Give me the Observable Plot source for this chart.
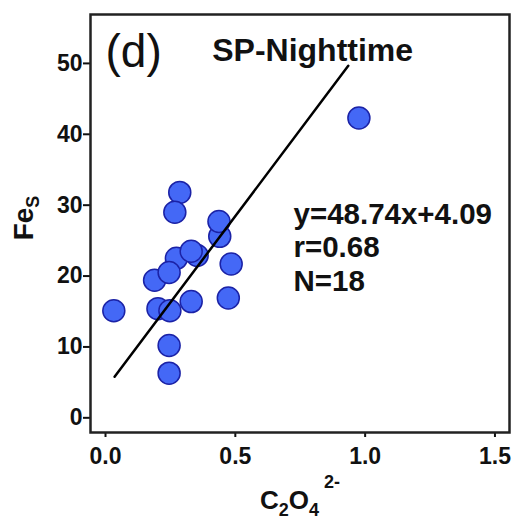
<!DOCTYPE html>
<html><head><meta charset="utf-8">
<script src="https://cdn.jsdelivr.net/npm/d3@7"></script>
<script src="https://cdn.jsdelivr.net/npm/@observablehq/plot@0.6"></script>
<style>body{margin:0;background:#fff} svg{font-family:"Liberation Sans",Arial,sans-serif}</style>
</head><body><div id="chart"></div>
<script>
// Data
const oxalate = [0.032,0.976,0.286,0.267,0.440,0.437,0.273,0.353,0.330,0.484,0.189,0.245,0.202,0.248,0.330,0.473,0.245,0.245];
const feS     = [15.1, 42.3, 31.8, 29.0, 25.6, 27.7, 22.5, 22.9, 23.5, 21.7, 19.4, 20.5, 15.4, 15.1, 16.4, 16.9, 10.2, 6.3];
const xTicks = [0, 0.5, 1.0, 1.5];
const yTicks = [0, 10, 20, 30, 40, 50];
const slope = 48.74, intercept = 4.09;
const fitRange = [0.035, 0.935];
const panelLabel = "(d)";
const title = "SP-Nighttime";
const statLines = ["y=48.74x+4.09", "r=0.68", "N=18"];

const pts = oxalate.map((x, i) => ({x, y: feS[i]}));
const fit = fitRange.map(x => ({x, y: slope * x + intercept}));

const plot = Plot.plot({
  width: 515, height: 519,
  marginLeft: 90, marginRight: 6, marginTop: 14, marginBottom: 87,
  style: {fontFamily: "Liberation Sans, Arial, sans-serif", background: "#fff", color: "#111"},
  x: {domain: [-0.0578, 1.556]},
  y: {domain: [-2.07, 56.9]},
  marks: [
    Plot.dot(pts, {x: "x", y: "y", r: 11, fill: "#4468f6", stroke: "#1b22a6", strokeWidth: 1.5}),
    Plot.line(fit, {x: "x", y: "y", stroke: "#000", strokeWidth: 2.5}),
    Plot.axisY(yTicks, {tickSize: 7, tickPadding: 1, fontSize: 23, fontWeight: "bold", strokeWidth: 2, label: null}),
    Plot.axisX(xTicks, {tickSize: 5, tickPadding: 10, fontSize: 23, fontWeight: "bold", strokeWidth: 2, label: null, tickFormat: d3.format(".1f")}),
    Plot.frame({stroke: "#222", strokeWidth: 2.5}),
    Plot.text([panelLabel], {text: d => d, frameAnchor: "top-left", dx: 15, dy: 52, lineAnchor: "bottom", textAnchor: "start", fontSize: 46, fill: "#111"}),
    Plot.text([title], {text: d => d, frameAnchor: "top-left", dx: 121.7, dy: 46, lineAnchor: "bottom", textAnchor: "start", fontSize: 32, fontWeight: "bold", fill: "#111"}),
    Plot.text([statLines.join("\n")], {text: d => d, frameAnchor: "top-left", dx: 203, dy: 185.4, lineAnchor: "top", textAnchor: "start", fontSize: 29.5, fontWeight: "bold", lineHeight: 1.14, fill: "#111"})
  ]
});

const svg = d3.select(plot);
// x-axis label: C2O4 2-
const xl = svg.append("text")
  .attr("x", 300).attr("y", 509)
  .attr("text-anchor", "middle")
  .attr("font-size", 26).attr("font-weight", "bold").attr("fill", "#111");
xl.append("tspan").text("C");
xl.append("tspan").attr("font-size", 18).attr("dy", 7).text("2");
xl.append("tspan").attr("dy", -7).text("O");
xl.append("tspan").attr("font-size", 18).attr("dy", 7).text("4");
xl.append("tspan").attr("font-size", 18).attr("dy", -28).attr("dx", 5).text("2-");
// y-axis label: Fe_S
const yl = svg.append("text")
  .attr("transform", "translate(32.7,218) rotate(-90)")
  .attr("text-anchor", "middle")
  .attr("font-size", 28).attr("font-weight", "bold").attr("fill", "#111");
yl.append("tspan").text("Fe");
yl.append("tspan").attr("font-size", 18).attr("dy", 6).text("S");

document.getElementById("chart").appendChild(plot);
</script>
</body></html>
